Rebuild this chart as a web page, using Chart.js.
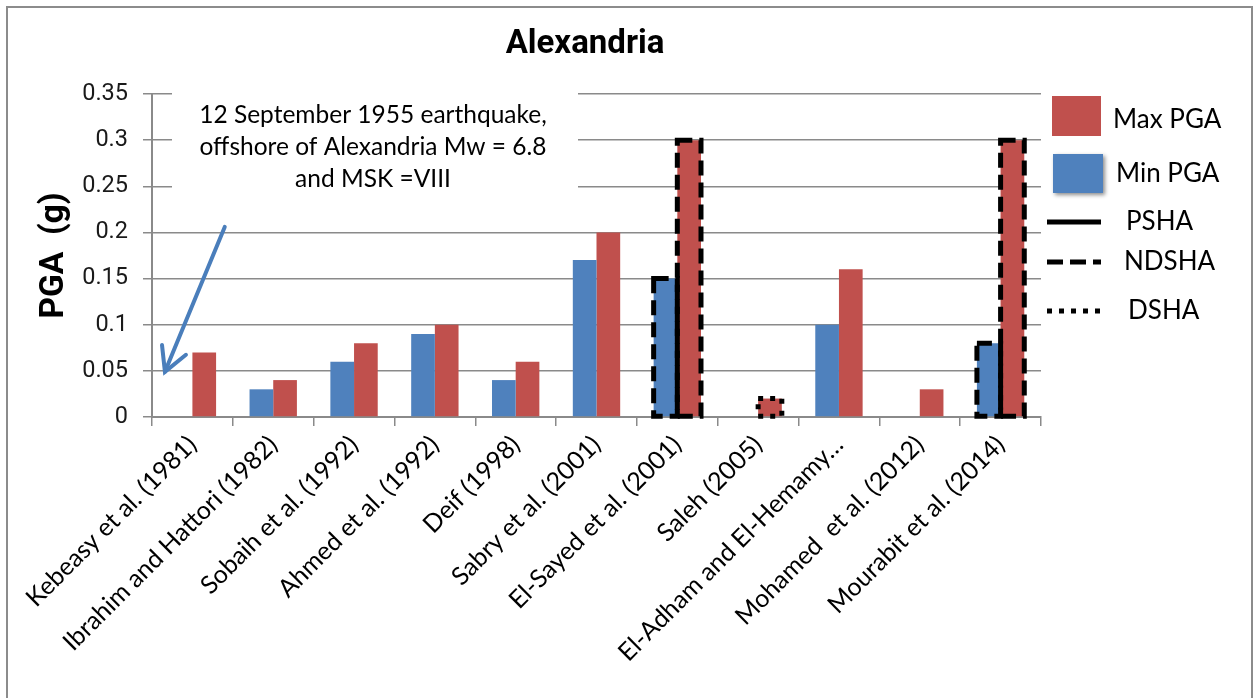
<!DOCTYPE html>
<html>
<head>
<meta charset="utf-8">
<script src="https://cdn.jsdelivr.net/npm/chart.js@4/dist/chart.umd.min.js"></script>
<style>
  html, body { margin: 0; padding: 0; background: #ffffff; }
  #wrap { width: 1255px; height: 698px; position: relative; }
</style>
</head>
<body>
<div id="wrap"><canvas id="pga" width="1255" height="698"></canvas></div>
<script>
// Peak ground acceleration estimates for Alexandria from published hazard studies
const studies = [
  'Kebeasy et al. (1981)',
  'Ibrahim and Hattori (1982)',
  'Sobaih et al. (1992)',
  'Ahmed et al. (1992)',
  'Deif (1998)',
  'Sabry et al. (2001)',
  'El-Sayed et al. (2001)',
  'Saleh (2005)',
  'El-Adham and El-Hemamy\u2026',
  'Mohamed  et al. (2012)',
  'Mourabit et al. (2014)'
];
const minPGA = [null, 0.03, 0.06, 0.09, 0.04, 0.17, 0.15, null, 0.10, null, 0.08];
const maxPGA = [0.07, 0.04, 0.08, 0.10, 0.06, 0.20, 0.30, 0.02, 0.16, 0.03, 0.30];
// hazard method outlined on the bars (PSHA bars carry no outline)
const method = ['PSHA', 'PSHA', 'PSHA', 'PSHA', 'PSHA', 'PSHA', 'NDSHA', 'DSHA', 'PSHA', 'PSHA', 'NDSHA'];
const yTicks = [0, 0.05, 0.1, 0.15, 0.2, 0.25, 0.3, 0.35];
const legendLabels = ['Max PGA', 'Min PGA', 'PSHA', 'NDSHA', 'DSHA'];
const noteLines = ['12 September 1955 earthquake,', 'offshore of Alexandria Mw = 6.8', 'and MSK =VIII'];

const RED = '#C0504D';
const BLUE = '#4F81BD';
const GRID = '#8a8a8a';
const TEXT_FONT = 'Lato, "Open Sans", sans-serif';
const NUM_FONT = 'Roboto, "Liberation Sans", sans-serif';

const DASHES = { NDSHA: [15, 7], DSHA: [5, 7] };

const decor = {
  id: 'decor',
  beforeDraw(chart) {
    const ctx = chart.ctx;
    ctx.save();
    ctx.fillStyle = '#ffffff';
    ctx.fillRect(0, 0, chart.width, chart.height);
    ctx.strokeStyle = '#8c8c8c';
    ctx.lineWidth = 2;
    ctx.beginPath();
    ctx.moveTo(7, chart.height + 5);
    ctx.lineTo(7, 7);
    ctx.lineTo(1252, 7);
    ctx.lineTo(1252, chart.height + 5);
    ctx.stroke();
    ctx.restore();
  },
  afterDatasetsDraw(chart) {
    const ctx = chart.ctx;
    const xs = chart.scales.x, ys = chart.scales.y;

    // method outlines around bars
    ctx.save();
    ctx.strokeStyle = '#000000';
    ctx.lineWidth = 5;
    chart.data.datasets.forEach((ds, i) => {
      const meta = chart.getDatasetMeta(i);
      meta.data.forEach((bar, j) => {
        const dash = DASHES[method[j]];
        if (!dash || ds.data[j] == null) return;
        const p = bar.getProps(['x', 'y', 'base', 'width'], true);
        ctx.setLineDash(dash);
        ctx.strokeRect(p.x - p.width / 2, p.y, p.width, p.base - p.y);
      });
    });
    ctx.restore();

    // note box with the earthquake description
    ctx.save();
    ctx.fillStyle = '#ffffff';
    ctx.fillRect(172, 86, 406, 118);
    ctx.fillStyle = '#000000';
    ctx.font = '24.5px ' + TEXT_FONT;
    ctx.textAlign = 'center';
    ctx.textBaseline = 'alphabetic';
    noteLines.forEach((t, k) => ctx.fillText(t, 373, 123 + k * 32));
    ctx.restore();

    // arrow pointing at the first study
    const c0 = xs.getPixelForValue(0);
    const cw = xs.width / studies.length;
    const tail = { x: c0 + 0.40 * cw, y: ys.getPixelForValue(0.206) };
    const tip = { x: c0 - 0.34 * cw, y: ys.getPixelForValue(0.049) };
    ctx.save();
    ctx.strokeStyle = '#4A7EBB';
    ctx.lineWidth = 4;
    ctx.lineCap = 'round';
    ctx.beginPath();
    ctx.moveTo(tail.x, tail.y);
    ctx.lineTo(tip.x, tip.y);
    ctx.stroke();
    const ang = Math.atan2(tip.y - tail.y, tip.x - tail.x);
    const hl = 27, spread = 0.5;
    ctx.beginPath();
    ctx.moveTo(tip.x - hl * Math.cos(ang - spread), tip.y - hl * Math.sin(ang - spread));
    ctx.lineTo(tip.x, tip.y);
    ctx.lineTo(tip.x - hl * Math.cos(ang + spread), tip.y - hl * Math.sin(ang + spread));
    ctx.stroke();
    ctx.restore();
  },
  afterDraw(chart) {
    const ctx = chart.ctx;
    // title
    ctx.save();
    ctx.fillStyle = '#000000';
    ctx.font = 'bold 33px ' + NUM_FONT;
    ctx.textAlign = 'center';
    ctx.textBaseline = 'alphabetic';
    ctx.fillText('Alexandria', 585, 53);
    ctx.restore();

    // legend
    ctx.save();
    ctx.font = '26px ' + TEXT_FONT;
    ctx.textBaseline = 'middle';
    ctx.textAlign = 'left';
    ctx.fillStyle = RED;
    ctx.fillRect(1052, 96, 49, 40);
    ctx.save();
    ctx.shadowColor = 'rgba(0,0,0,0.45)';
    ctx.shadowBlur = 4;
    ctx.shadowOffsetX = 2;
    ctx.shadowOffsetY = 2;
    ctx.fillStyle = BLUE;
    ctx.fillRect(1053, 154, 50, 39);
    ctx.restore();
    ctx.fillStyle = '#000000';
    ctx.fillText(legendLabels[0], 1113, 120);
    ctx.fillText(legendLabels[1], 1116, 174);

    ctx.strokeStyle = '#000000';
    ctx.lineWidth = 5;
    const lineRows = [
      { y: 222, dash: [], tx: 1126 },
      { y: 262, dash: [16, 7], tx: 1124 },
      { y: 311, dash: [5, 7], tx: 1128 }
    ];
    lineRows.forEach((r, k) => {
      ctx.setLineDash(r.dash);
      ctx.beginPath();
      ctx.moveTo(1047, r.y);
      ctx.lineTo(1101, r.y);
      ctx.stroke();
      ctx.fillText(legendLabels[k + 2], r.tx, r.y);
    });
    ctx.restore();
  }
};

new Chart(document.getElementById('pga'), {
  type: 'bar',
  data: {
    labels: studies,
    datasets: [
      { label: 'Min PGA', data: minPGA, backgroundColor: BLUE, borderWidth: 0 },
      { label: 'Max PGA', data: maxPGA, backgroundColor: RED, borderWidth: 0 }
    ]
  },
  options: {
    responsive: false,
    devicePixelRatio: 1,
    animation: false,
    categoryPercentage: 0.586,
    barPercentage: 1.0,
    layout: { padding: { top: 94, right: 214, bottom: 0, left: 0 } },
    plugins: {
      legend: { display: false },
      title: { display: false },
      tooltip: { enabled: false }
    },
    scales: {
      x: {
        grid: { drawOnChartArea: false, drawTicks: true, tickLength: 9, color: GRID, lineWidth: 1.5 },
        border: { display: true, color: GRID, width: 2 },
        ticks: {
          autoSkip: false,
          minRotation: 45,
          maxRotation: 45,
          padding: 4,
          color: '#000000',
          font: { family: TEXT_FONT, size: 25 }
        },
        afterFit(scale) { scale.height = 281; }
      },
      y: {
        min: 0,
        max: 0.35,
        afterBuildTicks(scale) { scale.ticks = yTicks.map(v => ({ value: v })); },
        grid: { color: GRID, lineWidth: 1.5, tickLength: 9, drawTicks: true },
        border: { display: true, color: GRID, width: 2 },
        ticks: {
          padding: 15,
          color: '#1a1a1a',
          font: { family: NUM_FONT, size: 23.5 },
          callback: v => String(+v.toFixed(2))
        },
        title: {
          display: true,
          text: 'PGA  (g)',
          color: '#000000',
          font: { family: NUM_FONT, size: 33.5, weight: 'bold' },
          padding: { top: 35, bottom: 0 }
        },
        afterFit(scale) { scale.width = 152; }
      }
    }
  },
  plugins: [decor]
});
</script>
</body>
</html>
